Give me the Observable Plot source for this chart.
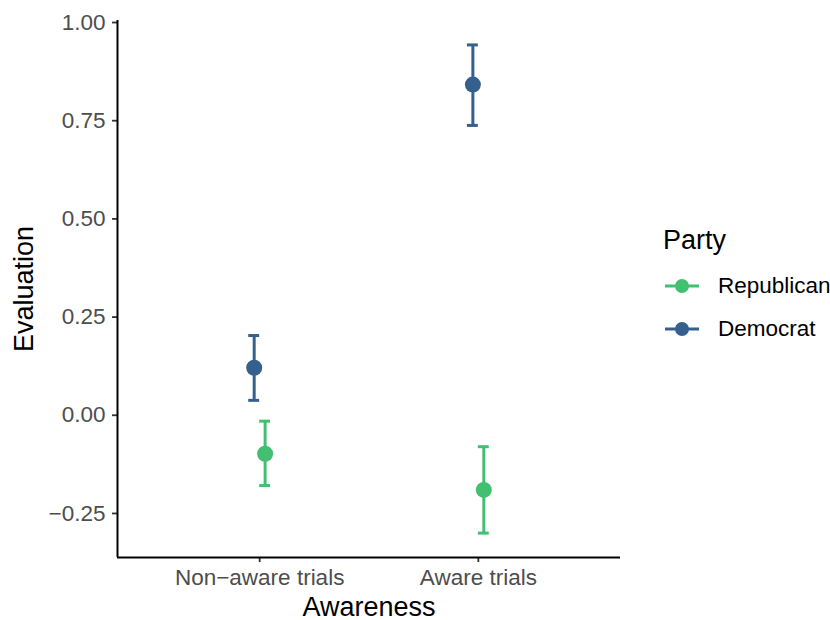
<!DOCTYPE html>
<html><head><meta charset="utf-8">
<script src="https://cdn.jsdelivr.net/npm/d3@7"></script>
<script src="https://cdn.jsdelivr.net/npm/@observablehq/plot@0.6"></script>
<style>
body{margin:0;background:#fff;font-family:"Liberation Sans",Arial,sans-serif;}
#wrap{position:relative;width:830px;height:620px;}
#legend{position:absolute;left:663px;top:224px;}
.ltitle{font-size:27px;color:#000;line-height:32px;}
.lrow{display:flex;align-items:center;height:43px;font-size:22.5px;color:#000;}
.lrow svg{margin-right:19px;}
</style></head><body><div id="wrap"></div>
<script>
const categories = ["Non\u2212aware trials", "Aware trials"];
const parties = ["Republican", "Democrat"];
const partyColors = ["#43BF71", "#35608D"];
const republicanMean = [-0.098, -0.190];
const republicanLow  = [-0.179, -0.300];
const republicanHigh = [-0.015, -0.080];
const democratMean = [0.121, 0.842];
const democratLow  = [0.038, 0.738];
const democratHigh = [0.203, 0.943];
const yTicks = [-0.25, 0, 0.25, 0.5, 0.75, 1.0];
const xLabel = "Awareness";
const yLabel = "Evaluation";
const legendTitle = "Party";

const series = {
  Republican: {mean: republicanMean, low: republicanLow, high: republicanHigh, dodge: 0.025},
  Democrat: {mean: democratMean, low: democratLow, high: democratHigh, dodge: -0.025}
};
const rows = [];
parties.forEach(p => {
  categories.forEach((c, i) => {
    const s = series[p];
    rows.push({party: p, category: c, x: i + 1 + s.dodge, mean: s.mean[i], low: s.low[i], high: s.high[i]});
  });
});
const cap = 0.025;
const lo = d3.min(rows, d => d.low), hi = d3.max(rows, d => d.high);
const pad = (hi - lo) * 0.05;
const yDomain = [lo - pad, hi + pad];
const xDomain = [0.35, 2.65];

const chart = Plot.plot({
  width: 830, height: 620,
  marginLeft: 117, marginRight: 210, marginTop: 20, marginBottom: 63,
  style: {fontFamily: "Liberation Sans, Arial, sans-serif", fontSize: "22px", background: "#fff"},
  x: {domain: xDomain},
  y: {domain: yDomain},
  color: {domain: parties, range: partyColors},
  marks: [
    Plot.axisY({ticks: yTicks, tickFormat: d3.format(".2f"), tickSize: 5, tickPadding: 7, fontSize: 22.5, fill: "#4D4D4D", stroke: "#333", strokeWidth: 1.8, label: null}),
    Plot.axisX({ticks: [1, 2], tickFormat: d => categories[d - 1], tickSize: 5, tickPadding: 7, fontSize: 22.5, fill: "#4D4D4D", stroke: "#333", strokeWidth: 1.8, label: null}),
    Plot.ruleX([xDomain[0]], {stroke: "#000", strokeWidth: 2}),
    Plot.ruleY([yDomain[0]], {stroke: "#000", strokeWidth: 2}),
    Plot.text([yLabel], {frameAnchor: "left", textAnchor: "middle", lineAnchor: "middle", dx: -93, rotate: -90, fontSize: 27, fill: "#000"}),
    Plot.text([xLabel], {frameAnchor: "bottom", textAnchor: "middle", lineAnchor: "middle", dy: 50, fontSize: 27, fill: "#000"}),
    Plot.ruleX(rows, {x: "x", y1: "low", y2: "high", stroke: "party", strokeWidth: 3}),
    Plot.ruleY(rows, {y: "low", x1: d => d.x - cap, x2: d => d.x + cap, stroke: "party", strokeWidth: 3}),
    Plot.ruleY(rows, {y: "high", x1: d => d.x - cap, x2: d => d.x + cap, stroke: "party", strokeWidth: 3}),
    Plot.dot(rows, {x: "x", y: "mean", r: 8, fill: "party", stroke: null})
  ]
});
const wrap = document.getElementById("wrap");
wrap.appendChild(chart);

const legend = document.createElement("div");
legend.id = "legend";
const t = document.createElement("div");
t.className = "ltitle"; t.textContent = legendTitle;
legend.appendChild(t);
const rowsWrap = document.createElement("div");
rowsWrap.style.marginTop = "8px";
parties.forEach((p, i) => {
  const r = document.createElement("div");
  r.className = "lrow";
  r.innerHTML = `<svg width="36" height="20"><line x1="2" x2="36" y1="10" y2="10" stroke="${partyColors[i]}" stroke-width="3"/><circle cx="19" cy="10" r="7" fill="${partyColors[i]}"/></svg><span>${p}</span>`;
  rowsWrap.appendChild(r);
});
legend.appendChild(rowsWrap);
wrap.appendChild(legend);
</script></body></html>
